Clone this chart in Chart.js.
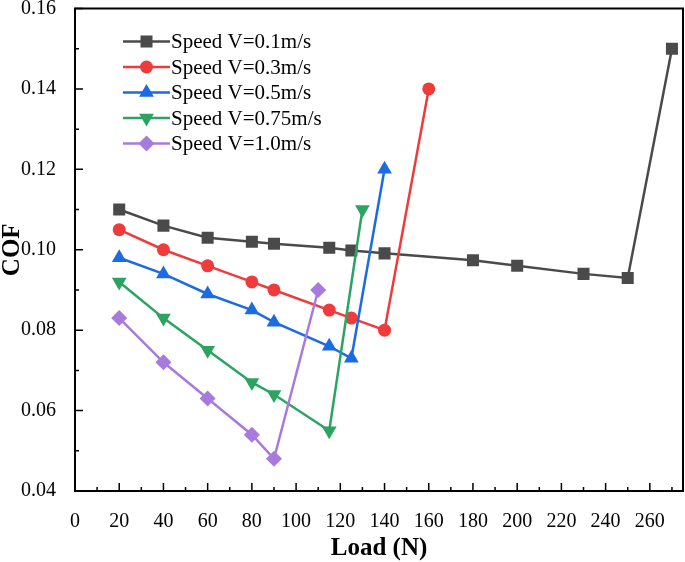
<!DOCTYPE html>
<html>
<head>
<meta charset="utf-8">
<script src="https://cdn.jsdelivr.net/npm/chart.js@4/dist/chart.umd.min.js"></script>
<style>
  html, body { margin: 0; padding: 0; background: #fff; }
  #wrap { width: 685px; height: 562px; }
</style>
</head>
<body>
<div id="wrap"><canvas id="c" width="685" height="562"></canvas></div>
<script>
const seriesLabels = ['Speed V=0.1m/s', 'Speed V=0.3m/s', 'Speed V=0.5m/s', 'Speed V=0.75m/s', 'Speed V=1.0m/s'];

const load01 = [20, 40, 60, 80, 90, 115, 125, 140, 180, 200, 230, 250, 270];
const cof01  = [0.110, 0.106, 0.103, 0.102, 0.1015, 0.1005, 0.0998, 0.0991, 0.0974, 0.0960, 0.0940, 0.0930, 0.150];

const load03 = [20, 40, 60, 80, 90, 115, 125, 140, 160];
const cof03  = [0.105, 0.100, 0.096, 0.092, 0.090, 0.085, 0.083, 0.080, 0.140];

const load05 = [20, 40, 60, 80, 90, 115, 125, 140];
const cof05  = [0.098, 0.094, 0.089, 0.085, 0.082, 0.076, 0.073, 0.120];

const load075 = [20, 40, 60, 80, 90, 115, 130];
const cof075  = [0.092, 0.083, 0.075, 0.067, 0.064, 0.055, 0.110];

const load10 = [20, 40, 60, 80, 90, 110];
const cof10  = [0.083, 0.072, 0.063, 0.054, 0.048, 0.090];

const xTickValues = [0, 20, 40, 60, 80, 100, 120, 140, 160, 180, 200, 220, 240, 260];
const xMinorValues = [10, 30, 50, 70, 90, 110, 130, 150, 170, 190, 210, 230, 250, 270];
const yTickValues = [0.04, 0.06, 0.08, 0.10, 0.12, 0.14, 0.16];
const yTickLabels = ['0.04', '0.06', '0.08', '0.10', '0.12', '0.14', '0.16'];
const yMinorValues = [0.05, 0.07, 0.09, 0.11, 0.13, 0.15];

const colors = ['#4a4a4a', '#ef3b3b', '#1c6be0', '#2ba462', '#a97ade'];
const styles = [
  { pointStyle: 'rect', rotation: 0, radius: 8.5 },
  { pointStyle: 'circle', rotation: 0, radius: 6.5 },
  { pointStyle: 'triangle', rotation: 0, radius: 8.5 },
  { pointStyle: 'triangle', rotation: 180, radius: 8.5 },
  { pointStyle: 'rectRot', rotation: 0, radius: 8 }
];

const pairs = (xs, ys) => xs.map((x, i) => ({ x: x, y: ys[i] }));
const allData = [pairs(load01, cof01), pairs(load03, cof03), pairs(load05, cof05), pairs(load075, cof075), pairs(load10, cof10)];

const datasets = allData.map((d, i) => ({
  label: seriesLabels[i],
  data: d,
  borderColor: colors[i],
  backgroundColor: colors[i],
  borderWidth: 2.5,
  pointStyle: styles[i].pointStyle,
  pointRotation: styles[i].rotation,
  pointRadius: styles[i].radius,
  pointHoverRadius: styles[i].radius,
  pointBorderWidth: 0,
  tension: 0,
  order: 5 - i
}));

const FONT = "'Liberation Serif', 'Times New Roman', serif";
const zeroPad = () => ({ left: 0, right: 0, top: 0, bottom: 0 });

const framePlugin = {
  id: 'frame',
  afterDatasetsDraw(chart) {
    const { ctx, chartArea: a, scales } = chart;
    const xs = scales.x, ys = scales.y;
    ctx.save();
    ctx.strokeStyle = '#000';
    ctx.lineWidth = 2;
    ctx.strokeRect(a.left, a.top, a.right - a.left, a.bottom - a.top);
    ctx.lineWidth = 1.5;
    ctx.beginPath();
    xTickValues.forEach(v => { const p = xs.getPixelForValue(v); ctx.moveTo(p, a.bottom); ctx.lineTo(p, a.bottom - 8); });
    xMinorValues.forEach(v => { const p = xs.getPixelForValue(v); ctx.moveTo(p, a.bottom); ctx.lineTo(p, a.bottom - 4); });
    yTickValues.forEach(v => { const p = ys.getPixelForValue(v); ctx.moveTo(a.left, p); ctx.lineTo(a.left + 8, p); });
    yMinorValues.forEach(v => { const p = ys.getPixelForValue(v); ctx.moveTo(a.left, p); ctx.lineTo(a.left + 4, p); });
    ctx.stroke();

    // legend
    const lx0 = 123, lx1 = 170, mx = 146.5, tx = 171, y0 = 41.5, dy = 25.5;
    chart.data.datasets.forEach((ds, i) => {
      const y = y0 + i * dy;
      ctx.strokeStyle = ds.borderColor;
      ctx.lineWidth = 2.5;
      ctx.beginPath(); ctx.moveTo(lx0, y); ctx.lineTo(lx1, y); ctx.stroke();
      ctx.fillStyle = ds.backgroundColor;
      Chart.helpers.drawPoint(ctx, { pointStyle: ds.pointStyle, rotation: ds.pointRotation, radius: ds.pointRadius, borderWidth: 0 }, mx, y);
      ctx.fillStyle = '#000';
      ctx.font = '21px ' + FONT;
      ctx.textBaseline = 'middle';
      ctx.textAlign = 'left';
      ctx.fillText(ds.label, tx, y + 1);
    });
    ctx.restore();
  }
};

new Chart(document.getElementById('c'), {
  type: 'line',
  data: { datasets: datasets },
  options: {
    responsive: false,
    animation: false,
    layout: { autoPadding: false, padding: { top: 8.5, right: 2, left: 0, bottom: 0 } },
    plugins: { legend: { display: false }, tooltip: { enabled: false } },
    scales: {
      x: {
        type: 'linear',
        min: 0, max: 275,
        afterBuildTicks: s => { s.ticks = xTickValues.map(v => ({ value: v })); },
        afterFit: s => { s.height = 71; s.paddingLeft = 0; s.paddingRight = 0; s.paddingTop = 0; s.paddingBottom = 0; s.getPadding = zeroPad; },
        grid: { display: false },
        border: { display: false },
        ticks: { color: '#000', padding: 11, maxRotation: 0, autoSkip: false, font: { family: FONT, size: 20 }, callback: v => String(v) },
        title: { display: true, text: 'Load (N)', color: '#000', font: { family: FONT, size: 25, weight: 'bold', lineHeight: 1 }, padding: { top: 0, bottom: 1 } }
      },
      y: {
        type: 'linear',
        min: 0.04, max: 0.16,
        afterBuildTicks: s => { s.ticks = yTickValues.map(v => ({ value: v })); },
        afterFit: s => { s.width = 75; s.paddingTop = 0; s.paddingBottom = 0; s.paddingLeft = 0; s.paddingRight = 0; s.getPadding = zeroPad; },
        grid: { display: false },
        border: { display: false },
        ticks: { color: '#000', padding: 11, autoSkip: false, font: { family: FONT, size: 20 },
          callback: v => { const i = yTickValues.findIndex(t => Math.abs(t - v) < 1e-9); return i >= 0 ? yTickLabels[i] : ''; } },
        title: { display: true, text: 'COF', color: '#000', font: { family: FONT, size: 25, weight: 'bold', lineHeight: 1 }, padding: { top: 0, bottom: 0 } }
      }
    }
  },
  plugins: [framePlugin]
});
</script>
</body>
</html>
